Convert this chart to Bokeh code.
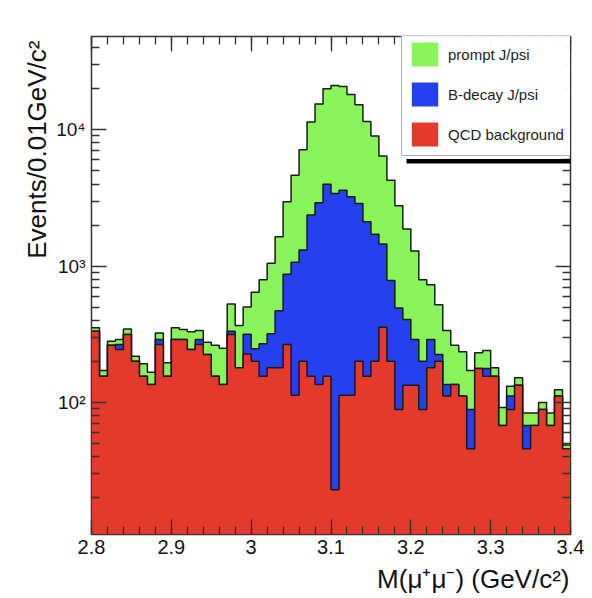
from bokeh.plotting import figure
from bokeh.models import (Range1d, FixedTicker, LinearAxis, LogAxis, Legend, LegendItem,
                          Title, BoxAnnotation, CustomJSTickFormatter)
from bokeh.embed import file_html
from bokeh.resources import INLINE

# ---- data (events per 0.01 GeV/c^2 bin, 2.80 .. 3.40) ----
x_start = 2.80
bin_width = 0.01
n_bins = 60

qcd_background = [333, 156, 263, 245, 315, 201, 156, 136, 267, 156,
                  290, 290, 245, 267, 225, 156, 136, 315, 180, 227,
                  201, 156, 180, 180, 267, 113, 201, 156, 136, 156,
                  23, 113, 113, 201, 156, 201, 356, 201, 89, 134,
                  134, 89, 180, 201, 112, 136, 112, 46, 178, 156,
                  156, 68, 89, 134, 46, 68, 89, 68, 112, 46]
b_decay_jpsi = [0, 0, 0, 22, 0, 0, 0, 0, 23, 0,
                0, 0, 0, 23, 0, 0, 0, 18, 0, 90,
                47, 114, 139, 292, 607, 956, 1114, 2211, 2775, 3834,
                3387, 3492, 3109, 2683, 1962, 1512, 1099, 584, 405, 272,
                156, 112, 110, 24, 24, 0, 0, 43, 0, 22,
                0, 0, 23, 0, 22, 0, 0, 0, 0, 0]
prompt_jpsi = [20, 16, 19, 23, 32, 18, 37, 31, 34, 40,
               63, 53, 85, 47, 52, 107, 114, 195, 187, 185,
               396, 524, 733, 1168, 2089, 3568, 5830, 9033, 12489, 15930,
               17640, 17105, 14878, 12336, 9382, 7267, 4955, 3481, 2276, 1466,
               1004, 593, 440, 297, 201, 127, 124, 83, 54, 63,
               24, 24, 20, 18, 16, 16, 11, 16, 12, 3]

series_labels = ["prompt J/psi", "B-decay J/psi", "QCD background"]
series_colors = ["#88F45A", "#2541EE", "#E43A2C"]

x_ticks = [2.8, 2.9, 3.0, 3.1, 3.2, 3.3, 3.4]
x_tick_labels = ["2.8", "2.9", "3", "3.1", "3.2", "3.3", "3.4"]
y_ticks = [100, 1000, 10000]
y_tick_labels = ["10\u00b2", "10\u00b3", "10\u2074"]

# ---- stacked tops ----
edges = [round(x_start + bin_width * i, 2) for i in range(n_bins + 1)]
red_top = [float(v) for v in qcd_background]
blue_top = [r + b for r, b in zip(red_top, b_decay_jpsi)]
green_top = [rb + g for rb, g in zip(blue_top, prompt_jpsi)]

def ext(a):
    return a + [a[-1]]

FONT = "Liberation Sans"
p = figure(width=592, height=598, x_range=Range1d(2.8, 3.4), y_range=Range1d(10.8, 48200),
           y_axis_type="log", output_backend="svg", toolbar_location=None,
           min_border_left=91, min_border_right=22, min_border_top=36, min_border_bottom=62)
p.xgrid.visible = False
p.ygrid.visible = False
p.background_fill_color = "white"
p.border_fill_color = "white"
p.outline_line_color = "#333333"
p.outline_line_width = 1.5

floor = [1.0] * (n_bins + 1)
renderers = []
for top, col in zip([green_top, blue_top, red_top], series_colors):
    r = p.varea_step(x=edges, y1=floor, y2=ext(top), step_mode="after", fill_color=col)
    p.step(x=edges, y=ext(top), mode="after", line_color="#1a1a1a", line_width=1.5)
    renderers.append(r)

# ---- axes ----
xticker = FixedTicker(ticks=x_ticks, minor_ticks=[round(x_start + 0.02 * i, 2) for i in range(31)])
yminor = [m * 10 ** e for e in (1, 2, 3) for m in range(2, 10)] + [20000, 30000, 40000]
yticker = FixedTicker(ticks=y_ticks, minor_ticks=yminor)

def style(ax):
    ax.major_tick_in = 15
    ax.major_tick_out = 0
    ax.minor_tick_in = 8
    ax.minor_tick_out = 0
    ax.axis_line_color = "#333333"
    ax.major_tick_line_color = "#333333"
    ax.minor_tick_line_color = "#333333"
    ax.major_tick_line_width = 1.3
    ax.minor_tick_line_width = 1.3
    ax.major_label_text_font = FONT
    ax.major_label_text_color = "#111111"

xa = p.xaxis[0]
xa.ticker = xticker
xa.major_label_overrides = dict(zip(x_ticks, x_tick_labels))
xa.major_label_text_font_size = "20px"
xa.major_label_standoff = 5
style(xa)

ya = p.yaxis[0]
ya.ticker = yticker
ya.major_label_overrides = dict(zip(y_ticks, y_tick_labels))
ya.major_label_text_font_size = "19px"
ya.major_label_standoff = 6
style(ya)

top_ax = LinearAxis(ticker=xticker, formatter=CustomJSTickFormatter(code="return ''"),
                    major_label_standoff=0)
style(top_ax)
p.add_layout(top_ax, "above")
right_ax = LogAxis(ticker=yticker, formatter=CustomJSTickFormatter(code="return ''"),
                   major_label_standoff=0)
style(right_ax)
p.add_layout(right_ax, "right")

p.add_layout(Title(text="Events/0.01GeV/c\u00b2", align="right", text_font=FONT,
                   text_font_size="26px", text_font_style="normal", text_color="#111111",
                   offset=4, standoff=4), "left")
p.add_layout(Title(text="M(\u03bc\u207a\u03bc\u207b) (GeV/c\u00b2)", align="right", text_font=FONT,
                   text_font_size="26px", text_font_style="normal", text_color="#111111",
                   offset=1), "below")

# ---- legend ----
legend = Legend(items=[LegendItem(label=l, renderers=[r]) for l, r in zip(series_labels, renderers)],
                location=(310, 378), glyph_width=33, glyph_height=30, spacing=10, padding=6,
                margin=0, label_standoff=7, label_text_font=FONT, label_text_font_size="15px",
                label_text_color="#222222", label_width=116, label_height=30,
                border_line_color="#666666", border_line_width=1, background_fill_color="white")
p.add_layout(legend, "center")

# legend drop shadow
p.add_layout(BoxAnnotation(left=406, right=592, top=158.5, bottom=163, left_units="canvas",
                           right_units="canvas", top_units="canvas", bottom_units="canvas",
                           fill_color="black", fill_alpha=1, line_color=None))

open("out.html", "w").write(file_html(p, INLINE))
